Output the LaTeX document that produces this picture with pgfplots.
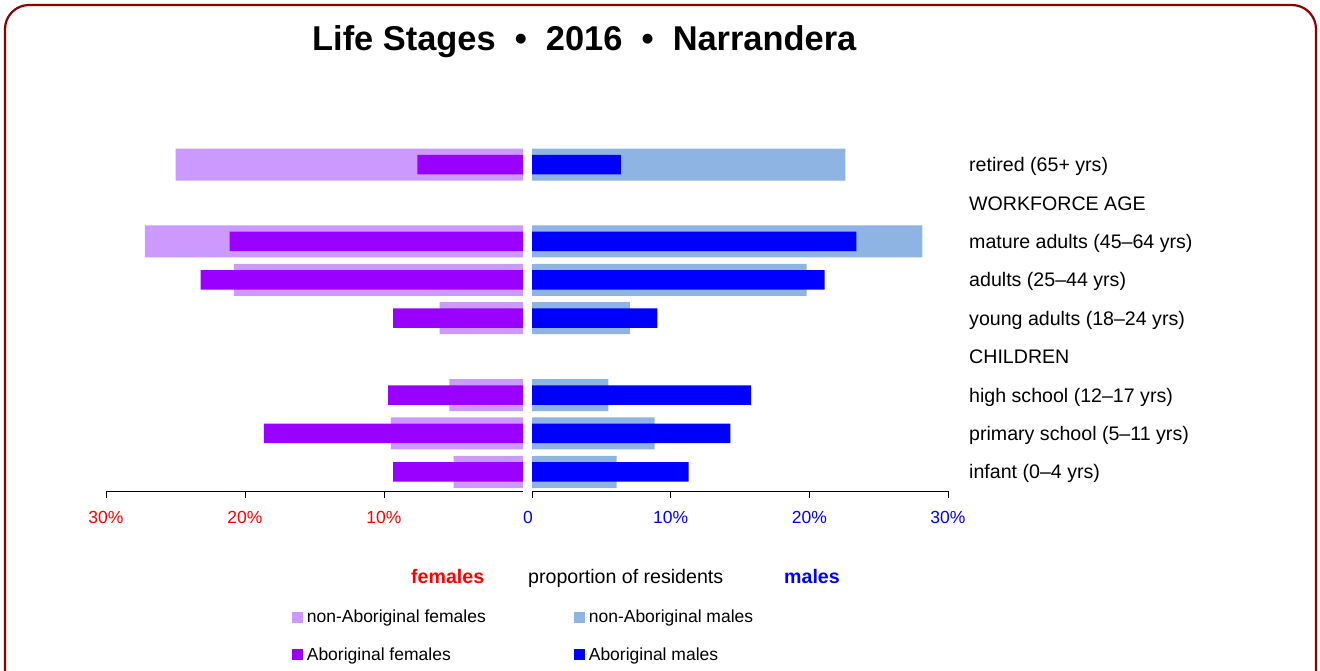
\documentclass[border=0pt]{standalone}
\usepackage{fontspec}
\setmainfont{Liberation Sans}
\usepackage{pgfplots}
\usepackage{pgfplotstable}
\pgfplotsset{compat=1.18}
\definecolor{nafem}{HTML}{CC99FF}
\definecolor{afem}{HTML}{9900FF}
\definecolor{namal}{HTML}{8EB4E3}
\definecolor{amal}{HTML}{0000FF}
\definecolor{framecol}{HTML}{8B0000}

% row: 0 infant ... 8 retired (3 and 7 are section headings)
\pgfplotstableread{
row nonab ab
0 5.0 9.35
1 9.5 18.65
2 5.3 9.7
4 6.0 9.35
5 20.8 23.2
6 27.2 21.1
8 25.0 7.6
}\females
\pgfplotstableread{
row nonab ab
0 6.1 11.3
1 8.85 14.3
2 5.5 15.8
4 7.05 9.05
5 19.8 21.1
6 28.15 23.4
8 22.6 6.4
}\males

\begin{document}
\begin{tikzpicture}
\useasboundingbox (0pt,0pt) rectangle (1320pt,-670pt);
\draw[framecol, line width=2.2pt, rounded corners=24pt] (5pt,-5pt) rectangle (1316pt,-720pt);
\node[anchor=base west, inner sep=0pt, font=\fontsize{34.4}{40}\selectfont\bfseries] at (312pt,-50pt) {Life Stages~~•~~2016~~•~~Narrandera};

\pgfplotsset{common/.style={
  scale only axis, height=345.6pt, ymin=-0.5, ymax=8.5,
  axis y line=none, axis x line*=bottom,
  tick align=outside, major tick length=7pt,
  xtick pos=bottom,
  /pgf/number format/assume math mode=true,
  xticklabel style={font=\fontsize{17.5}{20}\selectfont, yshift=-10pt},
  every tick/.style={black, line width=0.8pt},
  x axis line style={black, line width=0.8pt},
}}

\begin{axis}[common, at={(106pt,-491pt)}, anchor=south west, width=417pt,
  xmin=-30, xmax=0, xtick={-30,-20,-10}, xticklabels={30\%,20\%,10\%},
  xticklabel style={text=red}]
\addplot[xbar, bar shift=0pt, bar width=32pt, fill=nafem, draw=none] table[x expr=-\thisrow{nonab}, y=row]{\females};
\addplot[xbar, bar shift=0pt, bar width=19.5pt, fill=afem, draw=none] table[x expr=-\thisrow{ab}, y=row]{\females};
\end{axis}

\begin{axis}[common, at={(532pt,-491pt)}, anchor=south west, width=416pt,
  xmin=0, xmax=30, xtick={0,10,20,30}, xticklabels={\hspace*{-8pt}0,10\%,20\%,30\%},
  xticklabel style={text=blue},
  legend columns=2,
  legend cell align=left,
  legend image code/.code={\fill[#1] (0pt,-5.5pt) rectangle (11pt,5.5pt); \path (0pt,0pt) -- (13pt,0pt);},
  legend style={at={(-0.585,-0.333)}, anchor=north west, draw=none, fill=none,
    font=\fontsize{17.5}{20}\selectfont, row sep=19pt,
    /tikz/every even column/.append style={column sep=86pt}}]
\addplot[xbar, bar shift=0pt, bar width=32pt, fill=namal, draw=none, forget plot] table[x=nonab, y=row]{\males};
\addplot[xbar, bar shift=0pt, bar width=19.5pt, fill=amal, draw=none, forget plot] table[x=ab, y=row]{\males};
\addlegendimage{fill=nafem, draw=none}
\addlegendentry{non-Aboriginal females}
\addlegendimage{fill=namal, draw=none}
\addlegendentry{non-Aboriginal males}
\addlegendimage{fill=afem, draw=none}
\addlegendentry{Aboriginal females}
\addlegendimage{fill=amal, draw=none}
\addlegendentry{Aboriginal males}
\end{axis}

\begin{scope}[every node/.style={anchor=base west, inner sep=0pt, font=\fontsize{19.6}{23}\selectfont}]
\node at (969pt,-171.6pt) {retired (65+ yrs)};
\node at (969pt,-210pt) {WORKFORCE AGE};
\node at (969pt,-248.4pt) {mature adults (45–64 yrs)};
\node at (969pt,-286.8pt) {adults (25–44 yrs)};
\node at (969pt,-325.2pt) {young adults (18–24 yrs)};
\node at (969pt,-363.6pt) {CHILDREN};
\node at (969pt,-402pt) {high school (12–17 yrs)};
\node at (969pt,-440.4pt) {primary school (5–11 yrs)};
\node at (969pt,-478.8pt) {infant (0–4 yrs)};
\node[text=red, font=\fontsize{19.6}{23}\selectfont\bfseries] at (411pt,-583pt) {females};
\node at (528pt,-583pt) {proportion of residents};
\node[text=blue, font=\fontsize{19.6}{23}\selectfont\bfseries] at (784pt,-583pt) {males};
\end{scope}
\end{tikzpicture}
\end{document}
